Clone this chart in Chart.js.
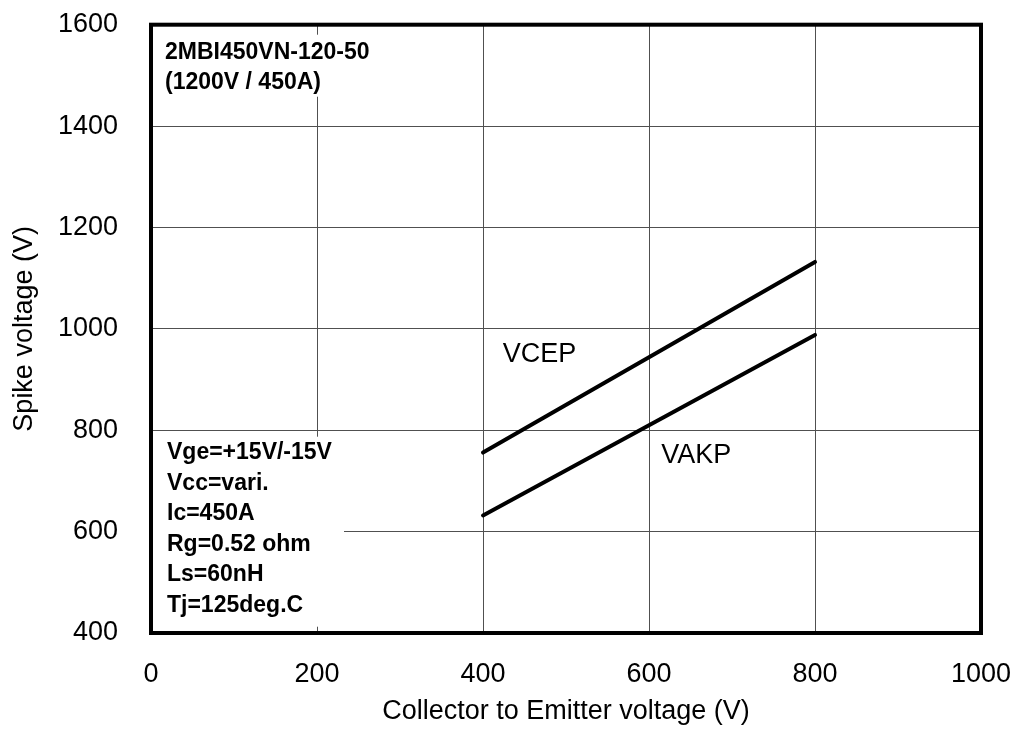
<!DOCTYPE html>
<html>
<head>
<meta charset="utf-8">
<script src="https://cdn.jsdelivr.net/npm/chart.js@4/dist/chart.umd.min.js"></script>
<style>
  body { margin: 0; background: #fff; }
  canvas { display: block; }
</style>
</head>
<body>
<canvas id="myChart" width="1016" height="731"></canvas>
<script>
// values
const vceXs = [400, 600, 800];
const vcepValues = [756, 944, 1132];
const vakpValues = [632, 810, 988];

const xTicks = [0, 200, 400, 600, 800, 1000];
const yTicks = [400, 600, 800, 1000, 1200, 1400, 1600];

const deviceLines = ['2MBI450VN-120-50', '(1200V / 450A)'];
const conditionLines = ['Vge=+15V/-15V', 'Vcc=vari.', 'Ic=450A', 'Rg=0.52 ohm', 'Ls=60nH', 'Tj=125deg.C'];

const FONT = "'Liberation Sans', Arial, sans-serif";

function points(xs, ys) {
  return xs.map((x, i) => ({ x: x, y: ys[i] }));
}

// scale size fixed so the plot frame sits where it does in the picture
function noPad(s) {
  s.paddingTop = 0;
  s.paddingBottom = 0;
  s.paddingLeft = 0;
  s.paddingRight = 0;
}

// white boxes with bold text, curve names, thick frame
const notes = {
  id: 'notes',
  afterDatasetsDraw(chart) {
    const ctx = chart.ctx;
    const a = chart.chartArea;
    ctx.save();
    ctx.fillStyle = '#fff';
    ctx.fillRect(a.left, a.top + 10, 230, 62);
    ctx.fillRect(a.left, a.top + 412, 193, 190);

    ctx.fillStyle = '#000';
    ctx.textBaseline = 'middle';
    ctx.textAlign = 'left';
    ctx.font = 'bold 23px ' + FONT;
    deviceLines.forEach((t, i) => ctx.fillText(t, a.left + 14, a.top + 28 + i * 30));
    conditionLines.forEach((t, i) => ctx.fillText(t, a.left + 16, a.top + 428 + i * 30.6));

    ctx.font = '27px ' + FONT;
    ctx.textAlign = 'center';
    const xs = chart.scales.x, ys = chart.scales.y;
    ctx.fillText('VCEP', xs.getPixelForValue(468), ys.getPixelForValue(950));
    ctx.fillText('VAKP', xs.getPixelForValue(657), ys.getPixelForValue(750));
    ctx.restore();
  },
  afterDraw(chart) {
    const ctx = chart.ctx;
    const a = chart.chartArea;
    ctx.save();
    ctx.strokeStyle = '#000';
    ctx.lineWidth = 4;
    ctx.strokeRect(a.left, a.top, a.right - a.left, a.bottom - a.top);
    ctx.restore();
  }
};

const config = {
  type: 'scatter',
  data: {
    datasets: [
      {
        label: 'VCEP',
        data: points(vceXs, vcepValues),
        showLine: true,
        borderColor: '#000',
        borderWidth: 4,
        borderCapStyle: 'round',
        pointRadius: 0,
        tension: 0
      },
      {
        label: 'VAKP',
        data: points(vceXs, vakpValues),
        showLine: true,
        borderColor: '#000',
        borderWidth: 4,
        borderCapStyle: 'round',
        pointRadius: 0,
        tension: 0
      }
    ]
  },
  options: {
    responsive: false,
    animation: false,
    devicePixelRatio: 1,
    layout: { padding: { left: 0, right: 35, top: 24.7, bottom: 0 } },
    plugins: {
      legend: { display: false },
      tooltip: { enabled: false }
    },
    scales: {
      x: {
        type: 'linear',
        min: 0,
        max: 1000,
        afterBuildTicks: (s) => { s.ticks = xTicks.map(v => ({ value: v })); },
        afterFit: (s) => { s.height = 98; noPad(s); },
        grid: { color: '#505050', lineWidth: 1, drawTicks: false },
        border: { display: false },
        ticks: { color: '#000', padding: 25, font: { family: FONT, size: 27 }, callback: (v) => String(v) },
        title: {
          display: true,
          text: 'Collector to Emitter voltage (V)',
          color: '#000',
          font: { family: FONT, size: 27 },
          padding: { top: 0, bottom: 3 }
        }
      },
      y: {
        type: 'linear',
        min: 400,
        max: 1600,
        afterBuildTicks: (s) => { s.ticks = yTicks.map(v => ({ value: v })); },
        afterFit: (s) => { s.width = 151; noPad(s); },
        grid: { color: '#505050', lineWidth: 1, drawTicks: false },
        border: { display: false },
        ticks: { color: '#000', padding: 33, font: { family: FONT, size: 27 }, callback: (v) => String(v) },
        title: {
          display: true,
          text: 'Spike voltage (V)',
          color: '#000',
          font: { family: FONT, size: 27 },
          padding: { top: 8, bottom: 0 }
        }
      }
    }
  },
  plugins: [notes]
};

var myChart = new Chart(document.getElementById('myChart'), config);
</script>
</body>
</html>
